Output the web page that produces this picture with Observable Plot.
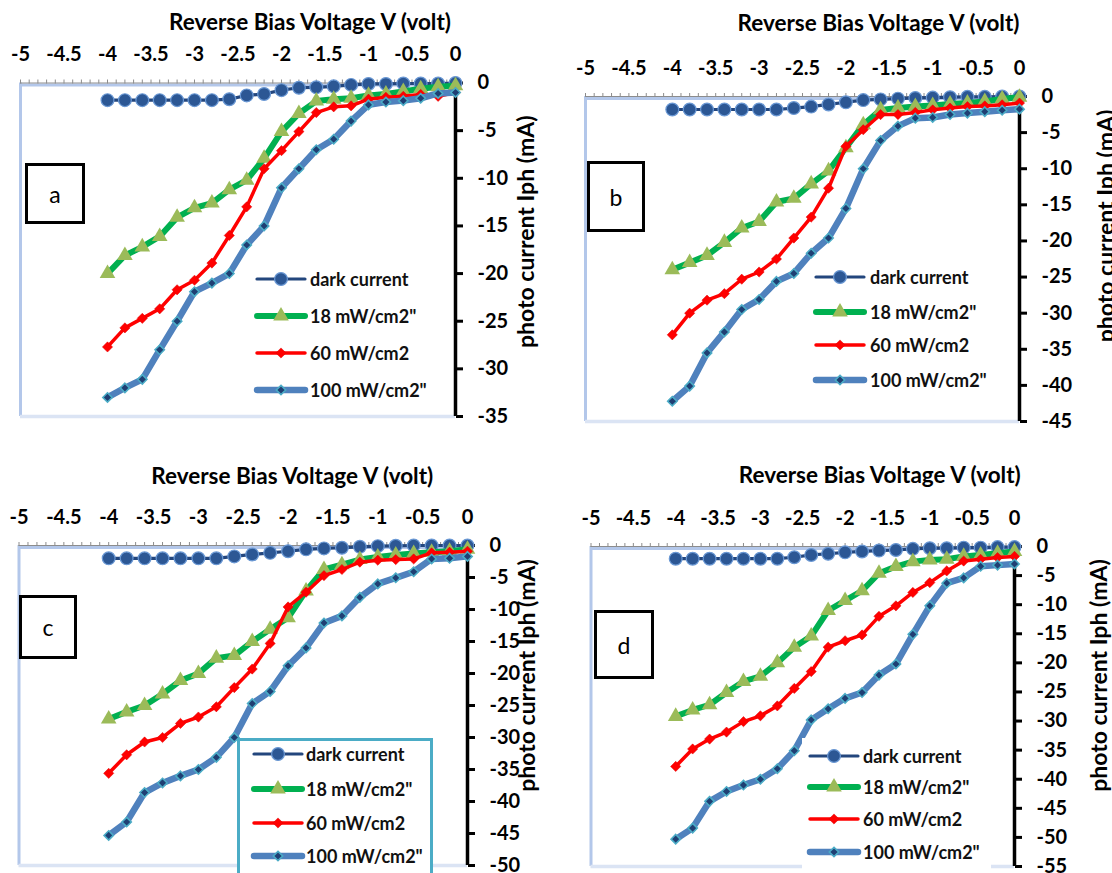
<!DOCTYPE html>
<html><head><meta charset="utf-8">
<script src="https://cdn.jsdelivr.net/npm/d3@7"></script>
<script src="https://cdn.jsdelivr.net/npm/@observablehq/plot@0.6"></script>
<style>
body{margin:0;background:#fff;font-family:Lato,"Open Sans",sans-serif;}
#root{position:relative;width:1112px;height:873px;overflow:hidden;background:#fff}
.panel{position:absolute}
.tag{position:absolute;border:3px solid #000;box-sizing:border-box;font-size:23px;display:flex;align-items:center;justify-content:center;background:#fff;color:#000}
.leg{position:absolute;font-size:18px;font-weight:700;color:#111;white-space:nowrap}
.legbox{position:absolute;background:#fff;box-sizing:border-box}
</style></head><body><div id="root"></div>
<script>
const voltage = [-4,-3.8,-3.6,-3.4,-3.2,-3,-2.8,-2.6,-2.4,-2.2,-2,-1.8,-1.6,-1.4,-1.2,-1,-0.8,-0.6,-0.4,-0.2,0];
const xTicks = [-5,-4.5,-4,-3.5,-3,-2.5,-2,-1.5,-1,-0.5,0];
const seriesNames = ["dark current","18 mW/cm2\"","60 mW/cm2","100 mW/cm2\""];
const xTitle = "Reverse Bias Voltage V (volt)";
const yTitle = "photo current Iph (mA)";
const panelLabels = ["a","b","c","d"];

// panel a
const aDark = [-1.8,-1.8,-1.8,-1.8,-1.8,-1.8,-1.8,-1.7,-1.3,-1.15,-0.75,-0.5,-0.45,-0.35,-0.2,-0.1,-0.1,-0.05,-0.05,-0.05,0];
const a18   = [-20,-18.1,-17.2,-16.1,-14.1,-13.1,-12.6,-11.2,-10.2,-7.9,-5.1,-3.2,-1.9,-1.7,-1.6,-1.3,-1.15,-0.9,-0.6,-0.4,-0.3];
const a60   = [-27.7,-25.7,-24.7,-23.7,-21.7,-20.7,-18.9,-16,-13,-9,-7.1,-5.1,-3.1,-2.5,-2.4,-1.7,-1.5,-1.4,-1.2,-1.4,-1.0];
const a100  = [-33,-32,-31.1,-28,-25,-21.9,-21,-20,-17,-15,-11,-9,-7,-5.9,-4,-2.3,-2,-1.85,-1.6,-1.1,-1.0];
const aYTicks = [0,-5,-10,-15,-20,-25,-30,-35];
// panel b
const bDark = [-1.8,-1.8,-1.8,-1.8,-1.8,-1.8,-1.8,-1.6,-1.4,-1.1,-0.8,-0.5,-0.4,-0.3,-0.2,-0.15,-0.1,-0.05,-0.05,0,0];
const b18   = [-24,-23,-22,-20.2,-18.2,-17.3,-14.6,-14.1,-12.1,-10.3,-7.1,-3.9,-1.85,-1.6,-1.4,-1.25,-1.05,-0.9,-0.7,-0.35,-0.1];
const b60   = [-33,-30,-28.2,-27.3,-25.3,-24.3,-22.5,-19.6,-16.7,-12.7,-6.9,-4.6,-2.5,-2.5,-2.2,-1.85,-1.6,-1.4,-1.3,-1.15,-0.9];
const b100  = [-42.2,-40.1,-35.5,-32.6,-29.5,-28.1,-25.6,-24.5,-21.7,-19.6,-15.5,-10,-6.1,-4.1,-3,-2.9,-2.5,-2.3,-2.1,-1.9,-1.75];
const bYTicks = [0,-5,-10,-15,-20,-25,-30,-35,-40,-45];
// panel c
const cDark = [-2,-2,-2,-2,-2,-2,-2,-1.7,-1.4,-1.15,-0.9,-0.6,-0.45,-0.35,-0.2,-0.1,-0.05,0,0,0,0];
const c18   = [-27.1,-26,-25,-23.2,-21.1,-20,-17.6,-17.2,-15,-13.1,-11.3,-7.1,-3.75,-3,-2.2,-1.8,-1.5,-1.25,-1.05,-0.9,-0.6];
const c60   = [-35.6,-32.7,-30.7,-30,-27.8,-26.8,-25.2,-22.2,-19.3,-15.3,-9.6,-7.3,-4.7,-3.75,-2.6,-2.3,-2.2,-2.1,-1.15,-1.05,-0.9];
const c100  = [-45.3,-43.2,-38.6,-37.1,-36,-35,-33.1,-30,-24.7,-22.8,-18.8,-16,-12.1,-11,-8.1,-6,-5.05,-4.1,-2.1,-2,-1.7];
const cYTicks = [0,-5,-10,-15,-20,-25,-30,-35,-40,-45,-50];
// panel d
const dDark = [-2.1,-2.1,-2.1,-2.1,-2.1,-2.1,-2.1,-1.85,-1.45,-1.25,-1,-0.85,-0.7,-0.6,-0.4,-0.3,-0.3,-0.2,-0.2,-0.1,-0.1];
const d18   = [-29.2,-28.1,-27.2,-25.1,-23.2,-22.3,-20,-17.3,-15.4,-11,-9.3,-7.6,-4.6,-3.45,-2.6,-2.3,-2.2,-1.7,-1.45,-1.15,-0.85];
const d60   = [-37.8,-34.8,-33.1,-31.9,-30.1,-29.1,-27.4,-24.4,-21.5,-17.3,-16.2,-15.2,-12,-10.2,-7.9,-6.2,-4.2,-2.5,-2.2,-1.9,-1.7];
const d100  = [-50.3,-48.4,-43.8,-42.1,-41,-40,-38.2,-35.1,-29.8,-27.9,-26.1,-25.1,-22.1,-20.2,-15.1,-10.2,-6.3,-5.4,-3.4,-3.2,-3];
const dYTicks = [0,-5,-10,-15,-20,-25,-30,-35,-40,-45,-50,-55];

const styles = [
  {line:"#23467d", lw:3.2, symbol:"circle", r:6.4, fill:"#2c5794", mstroke:"#6a98d4", msw:1.2},
  {line:"#00b050", lw:6, symbol:"triangle", r:5.8, fill:"#9bbb59", mstroke:"none", msw:0},
  {line:"#ff0000", lw:3.5, symbol:"diamond2", r:4.6, fill:"#ff0000", mstroke:"#e00000", msw:0.5},
  {line:"#4f81bd", lw:6.5, symbol:"diamond2", r:4.2, fill:"#1f3f73", mstroke:"#4bacc6", msw:1.6}
];

const panels = [
  {series:[aDark,a18,a60,a100], yTicks:aYTicks, left:0, top:0, w:556, h:436, mL:20, mR:101, mT:82.5, mB:20,
   tdx:72, tdy:-60, ydx:71, ydy:-18,
   tag:{x:25,y:163,w:60,h:61}, leg:{sx:255, tx:310, rows:[279,316,353,390]}},
  {series:[bDark,b18,b60,b100], yTicks:bYTicks, left:556, top:0, w:556, h:436, mL:29, mR:93, mT:96, mB:15,
   tdx:76, tdy:-73, ydx:87, ydy:-33,
   tag:{x:587,y:161,w:58,h:71}, leg:{sx:814, tx:870, rows:[277,312,345,380]}},
  {series:[cDark,c18,c60,c100], yTicks:cYTicks, left:0, top:436, w:556, h:437, mL:18.5, mR:89, mT:109, mB:8,
   tdx:49, tdy:-69, ydx:60, ydy:-30,
   tag:{x:19,y:595,w:58,h:64}, leg:{sx:252, tx:306, rows:[754,789,823,856]},
   box:{x:237,y:738,w:196,h:140,border:"3px solid #4bacc6"}},
  {series:[dDark,d18,d60,d100], yTicks:dYTicks, left:556, top:436, w:556, h:437, mL:34.5, mR:98, mT:110, mB:7,
   tdx:77, tdy:-71, ydx:85, ydy:-31,
   tag:{x:594,y:610,w:60,h:69}, leg:{sx:808, tx:863, rows:[756,787,819,852]},
   box:{x:802,y:738,w:189,h:140,border:"none"}}
];

const fmt = d => String(d);
const minorTicks = d3.range(-50, 1, 1).map(d => d / 10);
const root = document.getElementById("root");

panels.forEach((p, pi) => {
  const ymin = p.yTicks[p.yTicks.length - 1];
  const data = p.series.map((arr, si) => arr.map((i, k) => ({v: voltage[k], i, s: si})));
  const marks = [
    Plot.ruleX([-5], {stroke:"#b3c7ea", strokeWidth:3}),
    Plot.ruleY([ymin], {stroke:"#dbe4f4", strokeWidth:3.5}),
    Plot.ruleY([0], {stroke:"#b3c7ea", strokeWidth:3, dy:2}),
    Plot.ruleY([0], {stroke:"#8c8c8c", strokeWidth:1}),
    Plot.axisX({anchor:"top", ticks:minorTicks, tickSize:4, tickFormat:() => "", stroke:"#8c8c8c", label:null}),
    Plot.axisX({anchor:"top", ticks:xTicks, tickSize:0, tickPadding:22, tickFormat:fmt, fontSize:20, fontWeight:"bold", fill:"#000", label:null}),
    Plot.axisY({anchor:"right", ticks:p.yTicks, tickSize:7, tickPadding:15, tickFormat:fmt, fontSize:20, fontWeight:"bold", stroke:"#000", strokeWidth:3, fill:"#000", label:null}),
    Plot.ruleX([0], {y1:0, y2:ymin, stroke:"#000", strokeWidth:3.5}),
    Plot.text([xTitle], {frameAnchor:"top", lineAnchor:"middle", textAnchor:"middle", dx:p.tdx, dy:p.tdy, fontSize:22.5, fontWeight:"bold", fill:"#000"}),
    Plot.text([yTitle], {frameAnchor:"right", lineAnchor:"middle", textAnchor:"middle", rotate:-90, dx:p.ydx, dy:p.ydy, fontSize:23, fontWeight:"bold", fill:"#000"})
  ];
  data.forEach((rows, si) => {
    const st = styles[si];
    marks.push(Plot.line(rows, {x:"v", y:"i", stroke:st.line, strokeWidth:st.lw, strokeLinejoin:"round"}));
    marks.push(Plot.dot(rows, {x:"v", y:"i", symbol:st.symbol, r:st.r, fill:st.fill, stroke:st.mstroke, strokeWidth:st.msw}));
  });
  const chart = Plot.plot({
    width:p.w, height:p.h,
    marginLeft:p.mL, marginRight:p.mR, marginTop:p.mT, marginBottom:p.mB,
    x:{domain:[-5,0], label:null},
    y:{domain:[ymin,0], label:null},
    style:{fontFamily:"Lato, 'Open Sans', sans-serif", background:"transparent", color:"#000", overflow:"visible"},
    marks
  });
  chart.classList.add("panel");
  chart.style.left = p.left + "px";
  chart.style.top = p.top + "px";
  root.appendChild(chart);

  const tag = document.createElement("div");
  tag.className = "tag";
  tag.style.left = p.tag.x + "px"; tag.style.top = p.tag.y + "px";
  tag.style.width = p.tag.w + "px"; tag.style.height = p.tag.h + "px";
  tag.textContent = panelLabels[pi];
  root.appendChild(tag);

  if (p.box) {
    const b = document.createElement("div");
    b.className = "legbox";
    b.style.left = p.box.x + "px"; b.style.top = p.box.y + "px";
    b.style.width = p.box.w + "px"; b.style.height = p.box.h + "px";
    b.style.border = p.box.border;
    root.appendChild(b);
  }
  seriesNames.forEach((name, si) => {
    const st = styles[si];
    const cy = p.leg.rows[si];
    const sw = 52;
    let marker = "";
    const cx = sw / 2;
    if (st.symbol === "circle") marker = `<circle cx="${cx}" cy="10" r="${st.r}" fill="${st.fill}" stroke="${st.mstroke}" stroke-width="${st.msw}"/>`;
    else if (st.symbol === "triangle") marker = `<path d="${d3.symbol(d3.symbolTriangle, Math.PI*st.r*st.r)()}" transform="translate(${cx},10)" fill="${st.fill}"/>`;
    else marker = `<path d="${d3.symbol(d3.symbolDiamond2, Math.PI*st.r*st.r)()}" transform="translate(${cx},10)" fill="${st.fill}" stroke="${st.mstroke}" stroke-width="${st.msw}"/>`;
    const svg = `<svg width="${sw}" height="20" style="position:absolute;left:${p.leg.sx}px;top:${cy-10}px;overflow:visible"><line x1="2" x2="${sw-2}" y1="10" y2="10" stroke="${st.line}" stroke-width="${st.lw}" stroke-linecap="round"/>${marker}</svg>`;
    const holder = document.createElement("div");
    holder.innerHTML = svg;
    root.appendChild(holder.firstChild);
    const t = document.createElement("div");
    t.className = "leg";
    t.style.left = p.leg.tx + "px";
    t.style.top = (cy - 11) + "px";
    t.style.lineHeight = "22px";
    t.textContent = name;
    root.appendChild(t);
  });
});
</script>
</body></html>
